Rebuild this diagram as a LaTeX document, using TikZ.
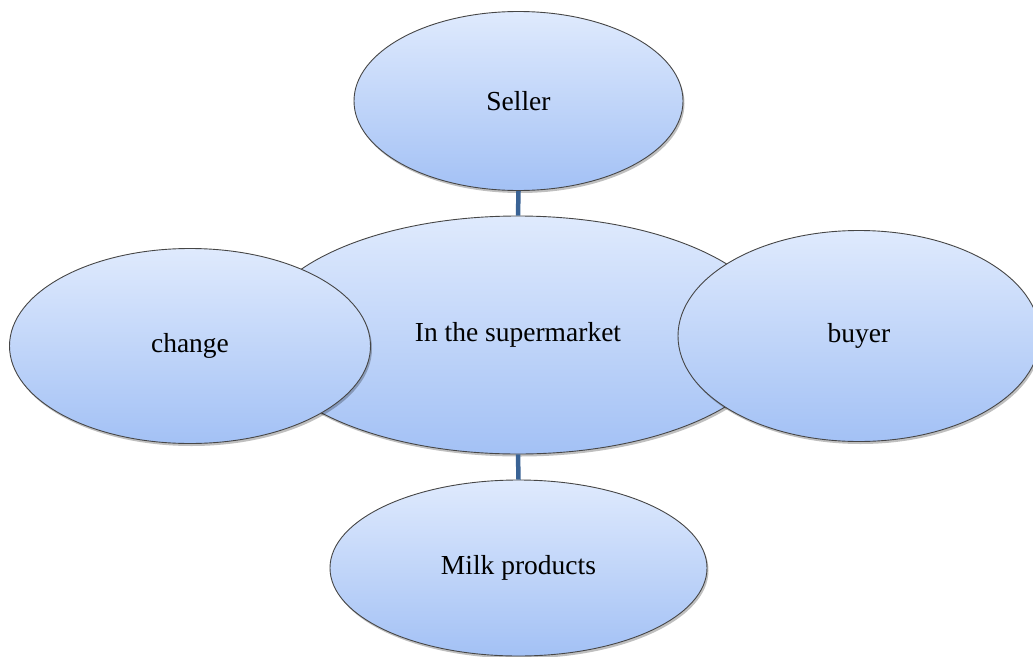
\documentclass[tikz,border=0pt]{standalone}
\usepackage{fontspec}
\setmainfont{Liberation Serif}
\usetikzlibrary{shapes.geometric,shadows}
\definecolor{topc}{RGB}{223,234,253}
\definecolor{botc}{RGB}{163,193,245}
\definecolor{edgec}{RGB}{70,70,70}
\definecolor{linkc}{RGB}{58,99,149}
\begin{document}
\begin{tikzpicture}[x=1pt,y=-1pt,
  bubble/.style={ellipse, draw=edgec, line width=0.9pt, top color=topc, bottom color=botc,
    inner sep=0pt, font=\fontsize{27.5}{32}\selectfont,
    drop shadow={opacity=0.25, shadow xshift=1.5pt, shadow yshift=-2.5pt, fill=black}},
  link/.style={draw=linkc, line width=4.5pt}]
\useasboundingbox (0,0) rectangle (1033,656);
\clip (0,0) rectangle (1033,656);
\node[bubble, minimum width=520pt, minimum height=238pt] (center) at (518,335) {In the supermarket};
\node[bubble, minimum width=361pt, minimum height=195pt] (change) at (190,346) {change};
\node[bubble, minimum width=362pt, minimum height=211pt] (buyer) at (859,336) {buyer};
\node[bubble, minimum width=329pt, minimum height=179pt] (seller) at (518.5,101) {Seller};
\node[bubble, minimum width=377pt, minimum height=176pt] (milk) at (518.5,568) {Milk products};
\draw[link] (seller.south) -- (center.north);
\draw[link] (center.south) -- (milk.north);
\end{tikzpicture}
\end{document}
